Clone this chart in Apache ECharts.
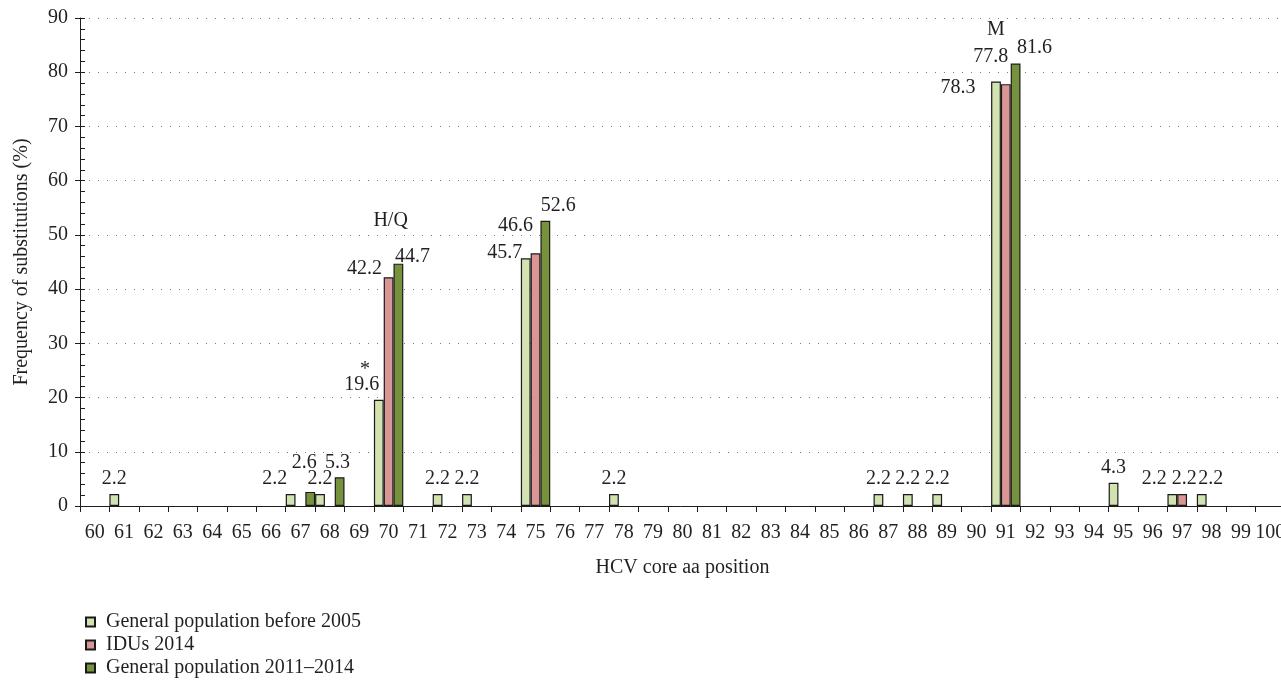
<!DOCTYPE html>
<html><head><meta charset="utf-8">
<script src="https://cdn.jsdelivr.net/npm/echarts@6/dist/echarts.min.js"></script>
<style>html,body{margin:0;padding:0;background:#fff}#c{width:1281px;height:684px}</style>
</head><body><div id="c"></div>
<script>
// ---- data ----
const categories = ['60','61','62','63','64','65','66','67','68','69','70','71','72','73','74','75','76','77','78','79','80','81','82','83','84','85','86','87','88','89','90','91','92','93','94','95','96','97','98','99','100'];
const seriesNames = ['General population before 2005', 'IDUs 2014', 'General population 2011\u20132014'];
//                      60   61   62   63   64   65   66   67   68   69   70    71   72   73   74   75    76   77   78   79   80   81   82   83   84   85   86   87   88   89   90   91    92   93   94   95   96   97   98   99   100
const generalBefore2005 = [null,2.2,null,null,null,null,null,2.2,2.2,null,19.6,null,2.2,2.2,null,45.7,null,null,2.2,null,null,null,null,null,null,null,null,2.2,2.2,2.2,null,78.3,null,null,null,4.3,null,2.2,2.2,null,null];
const idus2014          = [null,null,null,null,null,null,null,null,null,null,42.2,null,null,null,null,46.6,null,null,null,null,null,null,null,null,null,null,null,null,null,null,null,77.8,null,null,null,null,null,2.2,null,null,null];
const general2011_2014  = [null,null,null,null,null,null,null,2.6,5.3,null,44.7,null,null,null,null,52.6,null,null,null,null,null,null,null,null,null,null,null,null,null,null,null,81.6,null,null,null,null,null,null,null,null,null];
const yTicks = [0,10,20,30,40,50,60,70,80,90];
const annotations = [ ['70', 52.6, 'H/Q'], ['91', 87.8, 'M'], ['70', 25.8, '*'] ];

// ---- styles (kept apart from data) ----
const FONT = 'Liberation Serif';
const TXT = '#231f20';
const colors = ['#d3e2b1', '#da9694', '#76923c'];
const labelOffsets = [
  { '67': [-16, 0], '70': [-17, 0], '75': [-21, 10], '91': [-38, 21], '97': [-18, 0], '98': [9, 0] },
  { '70': [-24, 7], '75': [-20, -13], '91': [-15, -12], '97': [2, 0] },
  { '67': [-6, -14], '68': [-2, 0], '70': [14, 8], '75': [13, 0], '91': [19, -1] }
];
const annotationOffsets = { 'H/Q': [2, 0], 'M': [-10, 0], '*': [-23.6, 4] };

const allValues = [generalBefore2005, idus2014, general2011_2014];

const series = allValues.map((vals, s) => ({
  name: seriesNames[s],
  type: 'bar',
  barGap: '0%',
  barCategoryGap: '0%',
  itemStyle: { color: colors[s], borderColor: '#1a1a1a', borderWidth: 1.2 },
  label: { show: true, position: 'top', distance: 5, fontFamily: FONT, fontSize: 20, color: TXT },
  data: vals.map((v, i) => {
    if (v == null) return null;
    const off = labelOffsets[s][categories[i]];
    return off ? { value: v, label: { offset: off } } : v;
  }),
  markPoint: s === 1 ? {
    symbol: 'rect', symbolSize: 1,
    itemStyle: { color: 'rgba(0,0,0,0)' },
    label: { show: true, position: 'inside', fontFamily: FONT, fontSize: 20, color: TXT, formatter: p => p.name },
    data: annotations.map(a => ({ name: a[2], coord: [a[0], a[1]], label: { offset: annotationOffsets[a[2]] } }))
  } : undefined
}));

const chart = echarts.init(document.getElementById('c'), null, { renderer: 'canvas' });
chart.setOption({
  animation: false,
  backgroundColor: '#fff',
  grid: { left: 80, right: -4, top: 18, bottom: 178, containLabel: false, outerBoundsMode: 'none' },
  legend: {
    orient: 'vertical', left: 80, top: 607, height: 120,
    itemWidth: 9, itemHeight: 9, itemGap: 3, icon: 'rect',
    textStyle: { fontFamily: FONT, fontSize: 20, lineHeight: 20, color: TXT, padding: [0, 0, 0, 6] },
    data: seriesNames
  },
  xAxis: {
    type: 'category', data: categories,
    boundaryGap: true,
    name: 'HCV core aa position', nameLocation: 'middle', nameGap: 52,
    nameTextStyle: { fontFamily: FONT, fontSize: 20, color: TXT },
    axisLine: { lineStyle: { color: '#1e1e1e', width: 1 } },
    axisTick: { show: true, interval: 0, alignWithLabel: false, length: 6, lineStyle: { color: '#1e1e1e' } },
    axisLabel: { interval: 0, margin: 17, fontFamily: FONT, fontSize: 20, color: TXT, hideOverlap: false },
    splitLine: { show: false }
  },
  yAxis: [{
    type: 'value', min: yTicks[0], max: yTicks[yTicks.length - 1], interval: yTicks[1] - yTicks[0],
    name: 'Frequency of substitutions (%)', nameLocation: 'middle', nameGap: 48, nameRotate: 90,
    nameTextStyle: { fontFamily: FONT, fontSize: 20, color: TXT },
    axisLine: { show: true, lineStyle: { color: '#1e1e1e', width: 1 } },
    axisTick: { show: true, inside: false, length: 5, lineStyle: { color: '#1e1e1e' } },
    axisLabel: { margin: 12, fontFamily: FONT, fontSize: 20, color: TXT },
    splitLine: { show: true, lineStyle: { color: '#7a7a7a', width: 1, type: [1, 8] } }
  }, {
    type: 'value', min: yTicks[0], max: yTicks[yTicks.length - 1], interval: 2, position: 'left', offset: 0,
    axisLine: { show: false },
    axisTick: { show: true, inside: true, length: 5, lineStyle: { color: '#1e1e1e' } },
    axisLabel: { show: false },
    splitLine: { show: false }
  }],
  series: series
});
</script>
</body></html>
